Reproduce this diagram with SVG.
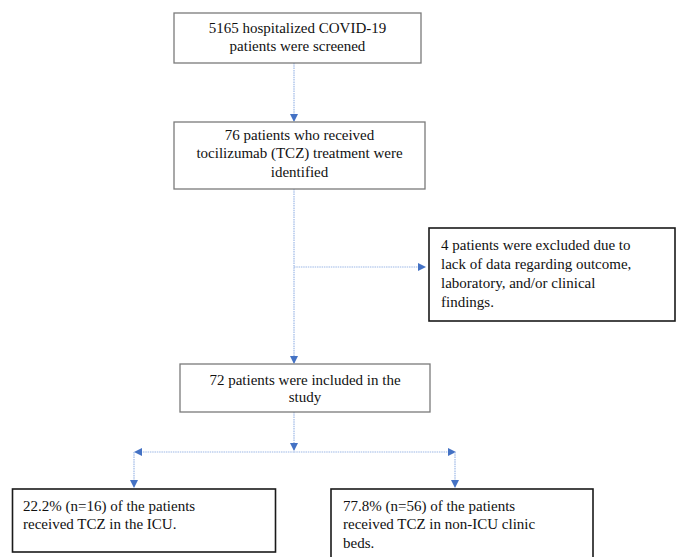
<svg xmlns="http://www.w3.org/2000/svg" width="676" height="557" viewBox="0 0 676 557">
<defs>
<marker id="ah" markerWidth="8" markerHeight="8" refX="7" refY="4" orient="auto" markerUnits="userSpaceOnUse">
<path d="M0,0 L8,4 L0,8 Z" fill="#4472c4"/>
</marker>
<style>
.t{font-family:"Liberation Serif","Times New Roman",serif;font-size:15px;fill:#111}
.c{text-anchor:middle}
.bg{fill:#fff;stroke:#7a7a7a;stroke-width:1.3}
.bk{fill:#fff;stroke:#1a1a1a;stroke-width:1.6}
.ln{fill:none;stroke:#9db8e6;stroke-width:1.2;stroke-dasharray:1.5 0.8}
</style>
</defs>
<rect width="676" height="557" fill="#fff"/>
<g id="connectors">
<line class="ln" x1="294" y1="63" x2="294" y2="121" marker-end="url(#ah)"/>
<line class="ln" x1="294" y1="189" x2="294" y2="363" marker-end="url(#ah)"/>
<line class="ln" x1="294" y1="267" x2="425" y2="267" marker-end="url(#ah)"/>
<line class="ln" x1="294" y1="412" x2="294" y2="450" marker-end="url(#ah)"/>
<line class="ln" x1="294" y1="452" x2="135" y2="452" marker-end="url(#ah)"/>
<line class="ln" x1="294" y1="452" x2="455" y2="452" marker-end="url(#ah)"/>
<line class="ln" x1="134" y1="452" x2="134" y2="487" marker-end="url(#ah)"/>
<line class="ln" x1="455" y1="452" x2="455" y2="487" marker-end="url(#ah)"/>
</g>
<g id="screened">
<rect class="bg" x="174" y="13" width="247" height="50"/>
<text class="t c" x="297.5" y="33">5165 hospitalized COVID-19</text>
<text class="t c" x="297.5" y="51">patients were screened</text>
</g>
<g id="identified">
<rect class="bg" x="174" y="122" width="251" height="67"/>
<text class="t c" x="299.5" y="140">76 patients who received</text>
<text class="t c" x="299.5" y="158">tocilizumab (TCZ) treatment were</text>
<text class="t c" x="299.5" y="177">identified</text>
</g>
<g id="excluded">
<rect class="bk" x="429" y="228" width="246" height="93"/>
<text class="t" x="441" y="250">4 patients were excluded due to</text>
<text class="t" x="441" y="269">lack of data regarding outcome,</text>
<text class="t" x="441" y="288">laboratory, and/or clinical</text>
<text class="t" x="441" y="307">findings.</text>
</g>
<g id="included">
<rect class="bg" x="180" y="364" width="250" height="48"/>
<text class="t c" x="305" y="385">72 patients were included in the</text>
<text class="t c" x="305" y="402">study</text>
</g>
<g id="icu">
<rect class="bk" x="12.5" y="489" width="263" height="63"/>
<text class="t" x="23" y="511">22.2% (n=16) of the patients</text>
<text class="t" x="23" y="529">received TCZ in the ICU.</text>
</g>
<g id="nonicu">
<rect class="bk" x="331" y="489" width="262" height="75"/>
<text class="t" x="343" y="511">77.8% (n=56) of the patients</text>
<text class="t" x="343" y="529">received TCZ in non-ICU clinic</text>
<text class="t" x="343" y="548">beds.</text>
</g>
</svg>
